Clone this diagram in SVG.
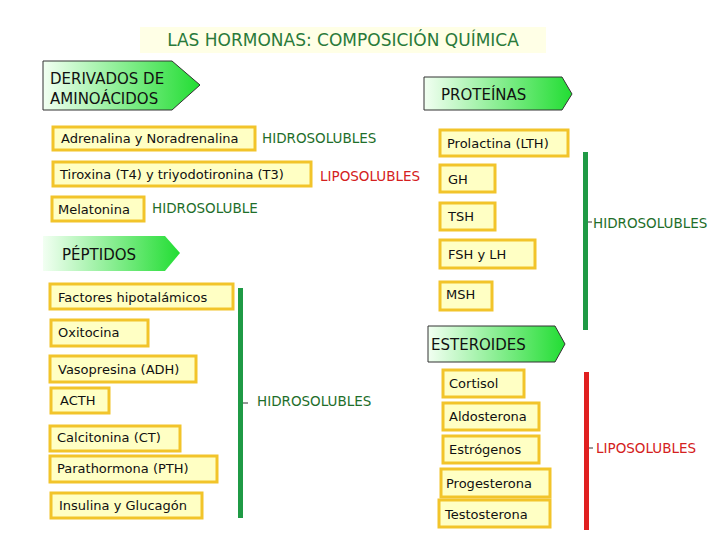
<svg xmlns="http://www.w3.org/2000/svg" width="720" height="540" viewBox="0 0 720 540">
<defs>
<linearGradient id="g" x1="0" y1="0" x2="1" y2="0"><stop offset="0" stop-color="#f2fff2"/><stop offset="1" stop-color="#22dd33"/></linearGradient>
<style>
text{font-family:"DejaVu Sans","Liberation Sans",sans-serif;}
.arr{fill:url(#g);stroke:#333;stroke-width:1}
.b{fill:#ffffc4;stroke:#f2c42a;stroke-width:3}
.t{font-size:13px;fill:#111}
.h{font-size:13.5px;fill:#1e6e2a}
.r{font-size:13.5px;fill:#d42020}
.k{font-size:15px;fill:#111}
</style>
</defs>
<rect x="140" y="27" width="406" height="26" fill="#ffffe6"/>
<text x="343" y="46" text-anchor="middle" font-size="17" fill="#2a7a3a">LAS HORMONAS: COMPOSICIÓN QUÍMICA</text>
<g id="derivados"><path class="arr" d="M43 61H172L200 85L172 110H43Z"/><text class="k" x="50" y="84">DERIVADOS DE</text><text class="k" x="50" y="104">AMINOÁCIDOS</text></g>
<g id="proteinas"><path class="arr" d="M424 77H562L572 94L562 110H424Z"/><text class="k" x="441" y="100">PROTEÍNAS</text></g>
<g id="peptidos"><path class="arr" d="M43 236H165L180 253L165 271H43Z" style="stroke:none"/><text class="k" x="62" y="260">PÉPTIDOS</text></g>
<g id="esteroides"><path class="arr" d="M428 326H555L565 344L555 362H428Z"/><text class="k" x="431" y="350">ESTEROIDES</text></g>
<g id="adrenalina"><rect class="b" x="53" y="127" width="202" height="23"/><text class="t" x="61" y="143">Adrenalina y Noradrenalina</text></g>
<text class="h" x="262" y="143">HIDROSOLUBLES</text>
<g id="tiroxina"><rect class="b" x="53" y="162" width="258" height="24"/><text class="t" x="60" y="179">Tiroxina (T4) y triyodotironina (T3)</text></g>
<text class="r" x="320" y="181">LIPOSOLUBLES</text>
<g id="melatonina"><rect class="b" x="52" y="197" width="92" height="24"/><text class="t" x="58" y="214">Melatonina</text></g>
<text class="h" x="152" y="213">HIDROSOLUBLE</text>
<g id="prolactina"><rect class="b" x="440" y="130" width="128" height="26"/><text class="t" x="447" y="148">Prolactina (LTH)</text></g>
<g id="gh"><rect class="b" x="440" y="165" width="55" height="27"/><text class="t" x="448" y="184">GH</text></g>
<g id="tsh"><rect class="b" x="440" y="203" width="55" height="27"/><text class="t" x="448" y="221">TSH</text></g>
<g id="fsh"><rect class="b" x="440" y="240" width="95" height="28"/><text class="t" x="448" y="259">FSH y LH</text></g>
<g id="msh"><rect class="b" x="440" y="282" width="52" height="28"/><text class="t" x="446" y="299">MSH</text></g>
<g id="factores"><rect class="b" x="50" y="284" width="183" height="25"/><text class="t" x="58" y="302">Factores hipotalámicos</text></g>
<g id="oxitocina"><rect class="b" x="51" y="320" width="97" height="26"/><text class="t" x="58" y="337">Oxitocina</text></g>
<g id="vasopresina"><rect class="b" x="50" y="356" width="146" height="26"/><text class="t" x="58" y="374">Vasopresina (ADH)</text></g>
<g id="acth"><rect class="b" x="51" y="388" width="58" height="25"/><text class="t" x="60" y="405">ACTH</text></g>
<g id="calcitonina"><rect class="b" x="50" y="426" width="130" height="25"/><text class="t" x="57" y="442">Calcitonina (CT)</text></g>
<g id="parathormona"><rect class="b" x="50" y="456" width="167" height="26"/><text class="t" x="57" y="473">Parathormona (PTH)</text></g>
<g id="insulina"><rect class="b" x="51" y="493" width="151" height="25"/><text class="t" x="59" y="510">Insulina y Glucagón</text></g>
<g id="cortisol"><rect class="b" x="443" y="370" width="81" height="27"/><text class="t" x="449" y="388">Cortisol</text></g>
<g id="aldosterona"><rect class="b" x="443" y="403" width="96" height="27"/><text class="t" x="449" y="421">Aldosterona</text></g>
<g id="estrogenos"><rect class="b" x="443" y="436" width="96" height="27"/><text class="t" x="449" y="454">Estrógenos</text></g>
<g id="progesterona"><rect class="b" x="441" y="469" width="109" height="28"/><text class="t" x="446" y="488">Progesterona</text></g>
<g id="testosterona"><rect class="b" x="439" y="500" width="111" height="27"/><text class="t" x="445" y="519">Testosterona</text></g>
<g id="connectors">
<rect x="238" y="288" width="5" height="230" fill="#1f9a45"/>
<line x1="243" y1="403" x2="248" y2="403" stroke="#333"/>
<rect x="583" y="152" width="5" height="178" fill="#1f9a45"/>
<line x1="588" y1="222" x2="592" y2="222" stroke="#333"/>
<rect x="584" y="372" width="5" height="158" fill="#e02020"/>
<line x1="589" y1="448" x2="593" y2="448" stroke="#333"/>
</g>
<text class="h" x="257" y="406">HIDROSOLUBLES</text>
<text class="h" x="593" y="228">HIDROSOLUBLES</text>
<text class="r" x="596" y="453">LIPOSOLUBLES</text>
</svg>
